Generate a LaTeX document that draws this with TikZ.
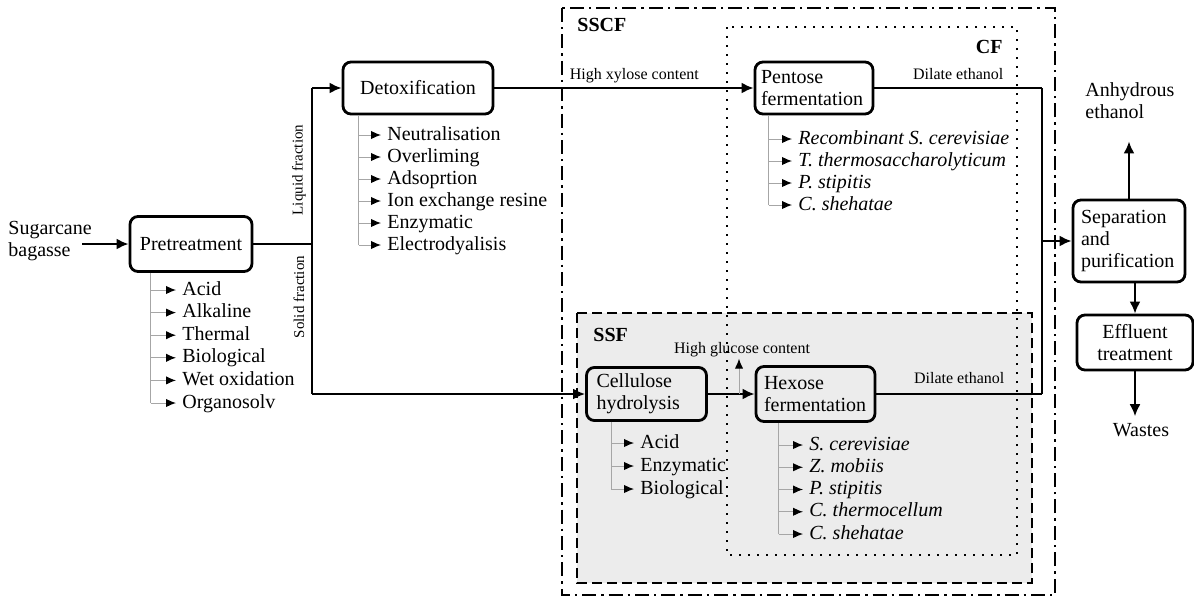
\documentclass[tikz,border=0pt]{standalone}
\usepackage{fontspec}
\setmainfont{Liberation Serif}
\usetikzlibrary{arrows.meta, positioning, calc}

\tikzset{
    proc/.style={draw, line width=1.4pt, rounded corners=4pt, font=\fontsize{10}{10.8}\selectfont},
    flow/.style={line width=1.1pt},
    into/.style={flow, -{Latex[length=6pt, width=5.5pt]}},
    trunk/.style={gray!70, line width=0.5pt},
    branch/.style={trunk, -{Latex[length=5pt, width=4.2pt, color=black]}},
    item/.style={font=\fontsize{10}{11}\selectfont, inner xsep=3pt, inner ysep=0.5pt, anchor=west, text height=7pt, text depth=2pt},
    species/.style={item, font=\fontsize{10}{11}\selectfont\itshape},
    note/.style={font=\fontsize{8}{9}\selectfont, inner sep=0.5pt},
    tag/.style={font=\fontsize{10}{11}\selectfont\bfseries, inner sep=0pt},
    sscfline/.style={line width=1.2pt, dash pattern=on 7pt off 2.5pt on 1.2pt off 2.5pt},
    cfline/.style={line width=1.3pt, dash pattern=on 1.2pt off 3.3pt},
    ssfline/.style={line width=1pt, dash pattern=on 5pt off 2.5pt},
}

\begin{document}
\begin{tikzpicture}[x=0.5pt, y=-0.5pt]
    \useasboundingbox (0,0) rectangle (1194,600);

    % Process regions
    \fill[gray!15] (577,313) rectangle (1032,583);
    \draw[ssfline] (577,313) rectangle (1032,583);
    \draw[cfline] (727,27) rectangle (1017,555);
    \draw[sscfline] (562,8) rectangle (1055,595);
    \node[tag, anchor=west] (sscf) at (577,25) {SSCF};
    \node[tag, anchor=east] (cf) at (1003,47) {CF};
    \node[tag, anchor=west] (ssf) at (593,335) {SSF};

    % Steps
    \node[align=left, anchor=west, inner sep=0pt, font=\fontsize{10}{11}\selectfont] (feed) at (8,241) {Sugarcane\\bagasse};
    \node[proc, minimum width=61pt, minimum height=27.5pt] (pre) at (191,244) {Pretreatment};
    \node[proc, minimum width=75pt, minimum height=26pt] (detox) at (418,88) {Detoxification};
    \node[proc, align=left, text width=53pt, inner xsep=3pt, minimum height=26pt] (pent) at (814,88) {Pentose\\fermentation};
    \node[proc, align=left, text width=50pt, inner xsep=5pt, minimum height=26.5pt] (cell) at (646.5,394) {Cellulose\\hydrolysis};
    \node[proc, align=left, text width=51.5pt, inner xsep=4pt, minimum height=27.5pt] (hex) at (815.5,394) {Hexose\\fermentation};
    \node[proc, align=left, text width=48pt, inner xsep=4pt, minimum height=41pt] (sep) at (1129,241) {Separation\\and\\purification};
    \node[proc, align=center, minimum width=58pt, minimum height=27.5pt] (eff) at (1135,342.5) {Effluent\\treatment};
    \node[align=left, anchor=west, inner sep=0pt, font=\fontsize{10}{11}\selectfont] (anh) at (1085,101) {Anhydrous\\ethanol};
    \node[font=\fontsize{10}{11}\selectfont] (waste) at (1141,430) {Wastes};

    % Main flow
    \coordinate (in) at (82,244);
    \coordinate (split) at (312,244);
    \coordinate (merge) at (1042,241);
    \draw[into] (in) -- (pre);
    \draw[flow] (pre) -- (split);
    \draw[flow] (split |- detox) -- (split |- cell);
    \draw[into] (split |- detox) -- (detox);
    \draw[into] (split |- cell) -- (cell);
    \node[note, rotate=90, font=\fontsize{7.5}{9}\selectfont] (liq) at (299,170) {Liquid fraction};
    \node[note, rotate=90, font=\fontsize{7.5}{9}\selectfont] (sol) at (299,297) {Solid fraction};

    \draw[into] (detox) -- (pent) node[pos=0.54, above=1.5pt, note] {High xylose content};
    \draw[into] (cell) -- (hex);
    \node[note] (gluc) at (742,350) {High glucose content};
    \coordinate (tap) at (739,394);
    \draw[branch] (tap) -- (tap |- gluc.south);

    \draw[flow] (pent) -- (merge |- pent) node[midway, above=3pt, note] {Dilate ethanol};
    \draw[flow] (hex) -- (merge |- hex) node[midway, above=4pt, note] {Dilate ethanol};
    \draw[flow] (merge |- pent) -- (merge |- hex);
    \draw[into] (merge |- sep) -- (sep);

    \draw[into, shorten >=11pt] (sep.north) -- (sep.north |- anh.south);
    \draw[into] (eff.north |- sep.south) -- (eff.north);
    \draw[into] (eff.south) -- (eff.south |- waste.north);

    % Pretreatment methods
    \coordinate (pretrunk) at ([xshift=11pt]pre.south west);
    \foreach \t [count=\i] in {Acid, Alkaline, Thermal, Biological, Wet oxidation, Organosolv} {
        \node[item] (pre-\i) at (176, 290+22.6*\i-22.6) {\t};
        \draw[branch] (pretrunk |- pre-\i) -- (pre-\i);
    }
    \draw[trunk] (pretrunk) -- (pretrunk |- pre-6);

    % Detoxification methods
    \coordinate (detoxtrunk) at ([xshift=8.5pt]detox.south west);
    \foreach \t [count=\i] in {Neutralisation, Overliming, Adsoprtion, Ion exchange resine, Enzymatic, Electrodyalisis} {
        \node[item] (detox-\i) at (381, 135+22*\i-22) {\t};
        \draw[branch] (detoxtrunk |- detox-\i) -- (detox-\i);
    }
    \draw[trunk] (detoxtrunk) -- (detoxtrunk |- detox-6);

    % Pentose fermenting organisms
    \coordinate (penttrunk) at ([xshift=7.5pt]pent.south west);
    \foreach \t [count=\i] in {Recombinant S. cerevisiae, T. thermosaccharolyticum, P. stipitis, C. shehatae} {
        \node[species] (pent-\i) at (792, 139+22*\i-22) {\t};
        \draw[branch] (penttrunk |- pent-\i) -- (pent-\i);
    }
    \draw[trunk] (penttrunk) -- (penttrunk |- pent-4);

    % Hydrolysis methods
    \coordinate (celltrunk) at ([xshift=13pt]cell.south west);
    \foreach \t [count=\i] in {Acid, Enzymatic, Biological} {
        \node[item] (cell-\i) at (634, 443+23*\i-23) {\t};
        \draw[branch] (celltrunk |- cell-\i) -- (cell-\i);
    }
    \draw[trunk] (celltrunk) -- (celltrunk |- cell-3);

    % Hexose fermenting organisms
    \coordinate (hextrunk) at ([xshift=12pt]hex.south west);
    \foreach \t [count=\i] in {S. cerevisiae, Z. mobiis, P. stipitis, C. thermocellum, C. shehatae} {
        \node[species] (hex-\i) at (803, 445+22.25*\i-22.25) {\t};
        \draw[branch] (hextrunk |- hex-\i) -- (hex-\i);
    }
    \draw[trunk] (hextrunk) -- (hextrunk |- hex-5);
\end{tikzpicture}
\end{document}
